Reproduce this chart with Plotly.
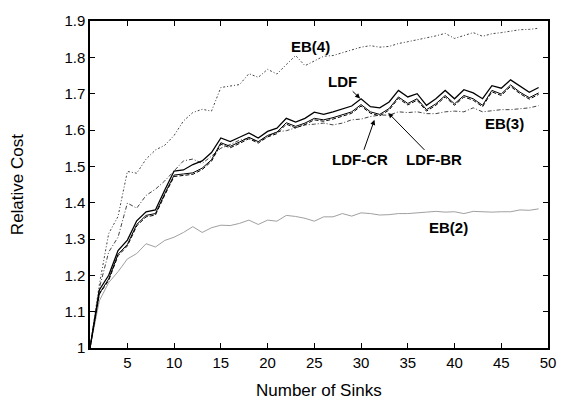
import plotly.graph_objects as go

sinks = list(range(1, 50))

ldf = [1.0, 1.16, 1.20, 1.268, 1.297, 1.35, 1.375, 1.38, 1.435, 1.487,
       1.49, 1.505, 1.515, 1.538, 1.578, 1.568, 1.58, 1.592, 1.578, 1.596,
       1.605, 1.632, 1.622, 1.632, 1.649, 1.643, 1.65, 1.657, 1.666, 1.686,
       1.664, 1.661, 1.677, 1.709, 1.691, 1.70, 1.668, 1.686, 1.709, 1.686,
       1.711, 1.702, 1.686, 1.722, 1.715, 1.738, 1.72, 1.704, 1.717]

ldf_cr = [1.0, 1.15, 1.19, 1.258, 1.285, 1.34, 1.365, 1.37, 1.425, 1.476,
          1.479, 1.482, 1.495, 1.518, 1.565, 1.555, 1.567, 1.58, 1.568, 1.585,
          1.594, 1.62, 1.61, 1.619, 1.632, 1.628, 1.634, 1.641, 1.65, 1.67,
          1.65, 1.643, 1.659, 1.691, 1.673, 1.686, 1.656, 1.672, 1.695, 1.672,
          1.695, 1.686, 1.668, 1.709, 1.699, 1.724, 1.704, 1.689, 1.702]

ldf_br = [1.0, 1.148, 1.186, 1.254, 1.281, 1.336, 1.361, 1.366, 1.421, 1.472,
          1.475, 1.478, 1.491, 1.514, 1.561, 1.551, 1.563, 1.576, 1.564, 1.581,
          1.59, 1.616, 1.606, 1.615, 1.628, 1.624, 1.63, 1.637, 1.646, 1.666,
          1.646, 1.639, 1.655, 1.687, 1.669, 1.682, 1.652, 1.668, 1.691, 1.668,
          1.691, 1.682, 1.664, 1.705, 1.695, 1.72, 1.70, 1.685, 1.698]

eb2 = [1.0, 1.13, 1.18, 1.21, 1.245, 1.26, 1.287, 1.278, 1.296, 1.305,
       1.318, 1.334, 1.318, 1.331, 1.338, 1.337, 1.343, 1.352, 1.34, 1.352,
       1.349, 1.365, 1.362, 1.357, 1.349, 1.361, 1.361, 1.37, 1.363, 1.372,
       1.370, 1.366, 1.367, 1.37, 1.37, 1.373, 1.374, 1.376, 1.374, 1.375,
       1.37, 1.376, 1.374, 1.374, 1.375, 1.375, 1.38, 1.379, 1.383]

eb3 = [1.0, 1.165, 1.264, 1.305, 1.399, 1.385, 1.42, 1.437, 1.46, 1.489,
       1.515, 1.52, 1.508, 1.528, 1.55, 1.56, 1.572, 1.577, 1.568, 1.582,
       1.595, 1.598, 1.605, 1.614, 1.616, 1.619, 1.614, 1.619, 1.628, 1.63,
       1.637, 1.641, 1.641, 1.65, 1.648, 1.65, 1.645, 1.645, 1.65, 1.652,
       1.65, 1.661, 1.65, 1.654, 1.656, 1.656, 1.659, 1.661, 1.667]

eb4 = [1.0, 1.175, 1.315, 1.362, 1.486, 1.481, 1.52, 1.545, 1.558, 1.585,
       1.625, 1.648, 1.657, 1.652, 1.717, 1.722, 1.725, 1.755, 1.745, 1.767,
       1.754, 1.78, 1.805, 1.777, 1.79, 1.803, 1.805, 1.812, 1.82, 1.828,
       1.832, 1.828, 1.83, 1.838, 1.843, 1.848, 1.855, 1.859, 1.866, 1.852,
       1.86, 1.868, 1.858, 1.865, 1.868, 1.873, 1.876, 1.877, 1.88]

x_ticks = [5, 10, 15, 20, 25, 30, 35, 40, 45, 50]
y_ticks = [1.0, 1.1, 1.2, 1.3, 1.4, 1.5, 1.6, 1.7, 1.8, 1.9]
y_tick_text = ["1", "1.1", "1.2", "1.3", "1.4", "1.5", "1.6", "1.7", "1.8", "1.9"]

FONT = "Liberation Sans, Arial, sans-serif"

fig = go.Figure()
series = [
    ("EB(2)", eb2, dict(color="#a0a0a0", width=1, dash="solid")),
    ("EB(3)", eb3, dict(color="#444444", width=1, dash="4px,2px,1px,2px")),
    ("EB(4)", eb4, dict(color="#444444", width=1, dash="2px,2px,1px,2px")),
    ("LDF-BR", ldf_br, dict(color="#000000", width=1, dash="4px,2px")),
    ("LDF-CR", ldf_cr, dict(color="#000000", width=1, dash="solid")),
    ("LDF", ldf, dict(color="#000000", width=1.3, dash="solid")),
]
for name, ys, line in series:
    fig.add_trace(go.Scatter(x=sinks, y=ys, mode="lines", name=name, line=line,
                             showlegend=False))

lab_font = dict(family=FONT, size=15, color="black")
ann = [
    dict(x=24.6, y=1.83, text="<b>EB(4)</b>", showarrow=False),
    dict(x=45.3, y=1.617, text="<b>EB(3)</b>", showarrow=False),
    dict(x=39.35, y=1.331, text="<b>EB(2)</b>", showarrow=False),
    dict(x=29.9, y=1.687, text="<b>LDF</b>", showarrow=True, ax=-18, ay=-17),
    dict(x=31.43, y=1.628, text="<b>LDF-CR</b>", showarrow=True, ax=-14, ay=40),
    dict(x=32.91, y=1.647, text="<b>LDF-BR</b>", showarrow=True, ax=46, ay=47),
]
for a in ann:
    a.update(xref="x", yref="y", font=lab_font, arrowhead=2, arrowsize=1,
             arrowwidth=1, arrowcolor="black", standoff=0)
    fig.add_annotation(**a)

fig.add_annotation(text="Relative Cost", xref="paper", yref="paper", x=-0.158, y=0.5,
                   textangle=-90, showarrow=False, xanchor="center", yanchor="middle",
                   font=dict(family=FONT, size=17, color="black"))
fig.add_annotation(text="Number of Sinks", xref="paper", yref="paper", x=0.5, y=-0.13,
                   showarrow=False, xanchor="center", yanchor="middle",
                   font=dict(family=FONT, size=17, color="black"))

axis_common = dict(showline=True, linecolor="black", linewidth=1.5, mirror="ticks",
                   ticks="inside", ticklen=5, tickwidth=1.2, tickcolor="black",
                   showgrid=False, zeroline=False,
                   tickfont=dict(family=FONT, size=15, color="black"))
fig.update_xaxes(range=[1, 50], tickvals=x_ticks, **axis_common)
fig.update_yaxes(range=[1, 1.9], tickvals=y_ticks, ticktext=y_tick_text, **axis_common)

fig.update_layout(width=568, height=409, margin=dict(l=90, r=15, t=14, b=61),
                  plot_bgcolor="white", paper_bgcolor="white")

fig.write_html("out.html")
